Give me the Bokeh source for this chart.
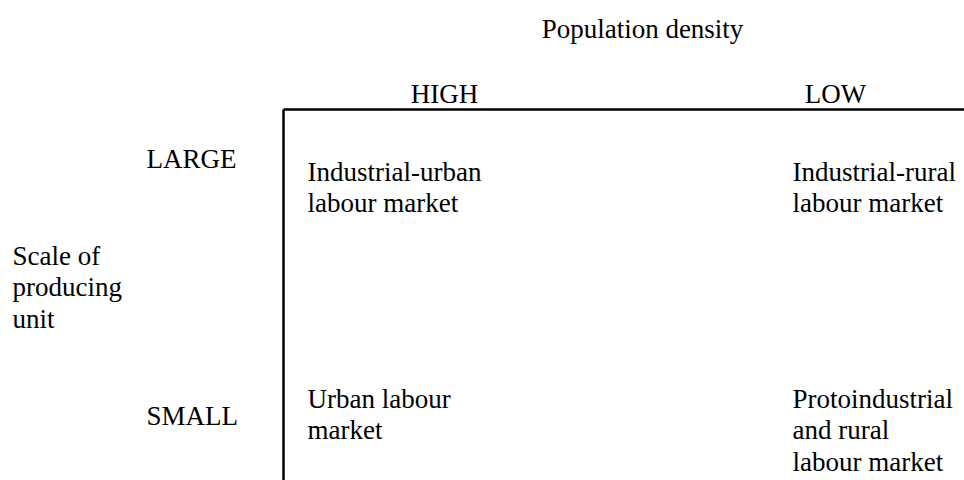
from bokeh.plotting import figure
from bokeh.models import Range1d, ColumnDataSource
from bokeh.core.properties import value
from bokeh.embed import file_html
from bokeh.resources import INLINE

# ---- content ----
title = "Population density"
col_labels = ["HIGH", "LOW"]
row_labels = ["LARGE", "SMALL"]
row_axis_title = ["Scale of", "producing", "unit"]
cells = {
    ("LARGE", "HIGH"): ["Industrial-urban", "labour market"],
    ("LARGE", "LOW"): ["Industrial-rural", "labour market"],
    ("SMALL", "HIGH"): ["Urban labour", "market"],
    ("SMALL", "LOW"): ["Protoindustrial", "and rural", "labour market"],
}

# ---- layout (screen px) ----
W, H = 964, 480
OFF = 0
FONT = "Liberation Serif"
FS = "27px"
LH = 31.5

title_x, title_y = 642, 28
col_center_x = {"HIGH": 444, "LOW": 835}
col_y = 93
row_x = 146
row_y = {"LARGE": 158, "SMALL": 415}
cell_x = {"HIGH": 307, "LOW": 792}
cell_y = {"LARGE": 171, "SMALL": 398}
axis_title_x, axis_title_y = 12, 255
frame_x, frame_y = 283, 109

def sx(x):
    return x - OFF

def sy(y):
    return y - OFF

p = figure(width=W, height=H, output_backend="svg", toolbar_location=None,
           x_range=Range1d(0, W), y_range=Range1d(H, 0), min_border=0)
p.axis.visible = False
p.grid.visible = False
p.outline_line_color = None
p.background_fill_color = "white"
p.border_fill_color = "white"

def add_text(xs, ys, texts, align):
    src = ColumnDataSource(dict(x=xs, y=ys, t=texts))
    p.text(x="x", y="y", text="t", source=src, text_font=value(FONT),
           text_font_size=FS, text_color="black", text_align=align,
           text_baseline="alphabetic")

# title
add_text([sx(title_x)], [sy(title_y)], [title], "center")
# column headers
add_text([sx(col_center_x[c]) for c in col_labels], [sy(col_y)] * len(col_labels), col_labels, "center")
# row headers
add_text([sx(row_x)] * len(row_labels), [sy(row_y[r]) for r in row_labels], row_labels, "left")
# row axis title
add_text([sx(axis_title_x)] * len(row_axis_title),
         [sy(axis_title_y + i * LH) for i in range(len(row_axis_title))], row_axis_title, "left")
# cells
xs, ys, ts = [], [], []
for (r, c), lines in cells.items():
    for i, line in enumerate(lines):
        xs.append(sx(cell_x[c]))
        ys.append(sy(cell_y[r] + i * LH))
        ts.append(line)
add_text(xs, ys, ts, "left")

# frame (top and left rules)
p.line(x=[sx(frame_x), W], y=[sy(frame_y), sy(frame_y)], line_color="black", line_width=2.5)
p.line(x=[sx(frame_x), sx(frame_x)], y=[sy(frame_y), H], line_color="black", line_width=2.5)

open("out.html", "w").write(file_html(p, INLINE))
